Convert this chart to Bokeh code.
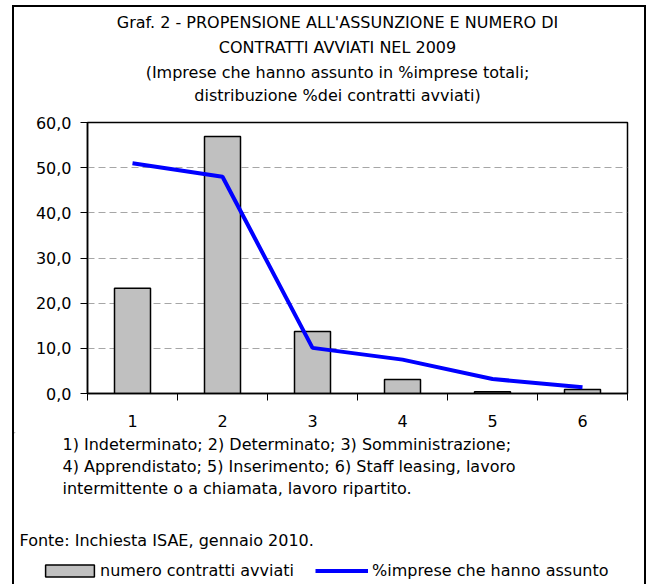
from bokeh.plotting import figure
from bokeh.models import Range1d, FixedTicker, Legend, LegendItem, Spacer
from bokeh.layouts import column, row
from bokeh.core.properties import value
from bokeh.embed import file_html
from bokeh.resources import INLINE

# ---------------- data ----------------
categories = [1, 2, 3, 4, 5, 6]
contratti = [23.3, 56.9, 13.7, 3.1, 0.4, 0.9]      # numero contratti avviati (distribuzione %)
imprese = [51.0, 48.0, 10.1, 7.5, 3.2, 1.4]        # % imprese che hanno assunto
y_ticks = [0, 10, 20, 30, 40, 50, 60]
y_tick_labels = ["0,0", "10,0", "20,0", "30,0", "40,0", "50,0", "60,0"]
title_lines = [
    "Graf. 2 - PROPENSIONE ALL'ASSUNZIONE E NUMERO DI",
    "CONTRATTI AVVIATI NEL 2009",
    "(Imprese che hanno assunto in %imprese totali;",
    "distribuzione %dei contratti avviati)",
]
note_lines = [
    "1) Indeterminato; 2) Determinato; 3) Somministrazione;",
    "4) Apprendistato; 5) Inserimento; 6) Staff leasing, lavoro",
    "intermittente o a chiamata, lavoro ripartito.",
]
source_text = "Fonte: Inchiesta ISAE, gennaio 2010."
legend_labels = ["numero contratti avviati", "%imprese che hanno assunto"]

FONT = "DejaVu Sans"
FS = "16px"
BAR_FILL = "#c0c0c0"
LINE_COL = "#0000ff"

# page layout (pixels): box border 2px at x=12..14 / 644..646, top 5..7
X0, X1 = 14, 644          # inner content
Y0 = 7
Y_MAIN0, Y_MAIN1, Y_END = 106, 432, 584
FRAME_L, FRAME_R, FRAME_T, FRAME_B = 87, 627, 122, 393
CW = X1 - X0


def blank(h, y0, y1):
    f = figure(width=CW, height=h, output_backend="svg", toolbar_location=None,
               x_range=Range1d(X0, X1), y_range=Range1d(y1, y0),
               x_axis_location=None, y_axis_location=None, min_border=0)
    f.min_border_left = f.min_border_right = f.min_border_top = f.min_border_bottom = 0
    f.outline_line_color = None
    f.grid.visible = False
    f.background_fill_color = "white"
    f.border_fill_color = "white"
    return f


# ---- title strip ----
top = blank(Y_MAIN0 - Y0, Y0, Y_MAIN0)
top.text(x=[337] * 4, y=[22, 47, 72, 95], text=title_lines,
         text_font=value(FONT), text_font_size=value(FS), text_color="black",
         text_align="center", text_baseline="middle")

# ---- main chart ----
p = figure(width=CW, height=Y_MAIN1 - Y_MAIN0, output_backend="svg", toolbar_location=None,
           x_range=Range1d(0.5, 6.5), y_range=Range1d(0, 60),
           min_border_left=FRAME_L - X0, min_border_right=X1 - FRAME_R,
           min_border_top=FRAME_T - Y_MAIN0, min_border_bottom=Y_MAIN1 - FRAME_B)
p.background_fill_color = "white"
p.border_fill_color = "white"
p.outline_line_color = "black"
p.outline_line_width = 1.5

p.xaxis.ticker = FixedTicker(ticks=categories,
                             minor_ticks=[c - 0.5 for c in categories] + [categories[-1] + 0.5])
p.xaxis.major_tick_out = 0
p.xaxis.major_tick_in = 0
p.xaxis.minor_tick_out = 7
p.xaxis.minor_tick_in = 0
p.xaxis.minor_tick_line_color = "black"
p.xaxis.major_label_standoff = 14
p.yaxis.ticker = FixedTicker(ticks=y_ticks, minor_ticks=[])
p.yaxis.major_label_overrides = {t: l for t, l in zip(y_ticks, y_tick_labels)}
p.yaxis.major_tick_out = 7
p.yaxis.major_tick_in = 0
p.yaxis.major_label_standoff = 9
for ax in (p.xaxis, p.yaxis):
    ax.axis_line_color = "black"
    ax.axis_line_width = 1.5
    ax.major_tick_line_color = "black"
    ax.major_label_text_font = FONT
    ax.major_label_text_font_size = FS
    ax.major_label_text_color = "black"

p.xgrid.grid_line_color = None
p.ygrid.grid_line_color = "#a6a6a6"
p.ygrid.grid_line_dash = "7 4"
p.ygrid.grid_line_width = 1

p.vbar(x=categories, top=contratti, width=0.4, fill_color=BAR_FILL,
       line_color="black", line_width=1.5)
p.line(x=categories, y=imprese, line_color=LINE_COL, line_width=4)

# ---- notes + legend strip ----
bot = blank(Y_END - Y_MAIN1, Y_MAIN1, Y_END)
bot.text(x=[62] * 3, y=[444, 466, 488], text=note_lines,
         text_font=value(FONT), text_font_size=value(FS), text_color="black",
         text_align="left", text_baseline="middle")
bot.text(x=[19], y=[540], text=[source_text],
         text_font=value(FONT), text_font_size=value(FS), text_color="black",
         text_align="left", text_baseline="middle")

# legend swatches: renderers kept outside the visible range, only their legend glyph shows
r_bar = bot.vbar(x=[-1000], top=[-1000], bottom=[-1001], width=1,
                 fill_color=BAR_FILL, line_color="black", line_width=1.5)
r_line = bot.line(x=[-1000, -999], y=[-1000, -1000], line_color=LINE_COL, line_width=4)
common = dict(orientation="horizontal", padding=0, margin=0, border_line_color=None,
              background_fill_alpha=0, label_text_font=FONT, label_text_font_size=FS,
              label_text_color="black", glyph_height=15, label_height=15)
leg1 = Legend(items=[LegendItem(label=legend_labels[0], renderers=[r_bar])],
              location=(39 - X0, Y_END - 580), glyph_width=61, label_standoff=0, **common)
leg2 = Legend(items=[LegendItem(label=legend_labels[1], renderers=[r_line])],
              location=(315 - X0, Y_END - 580), glyph_width=53, label_standoff=4, **common)
bot.add_layout(leg1)
bot.add_layout(leg2)

# wrapping the chart in a row keeps the column from aligning the three frames
inner = column(top, row(p), bot,
               styles={"border-left": "2px solid #000", "border-right": "2px solid #000",
                       "border-top": "2px solid #000"})
layout = row(Spacer(width=12), column(Spacer(height=5), inner))
open("out.html", "w").write(file_html(layout, INLINE))
